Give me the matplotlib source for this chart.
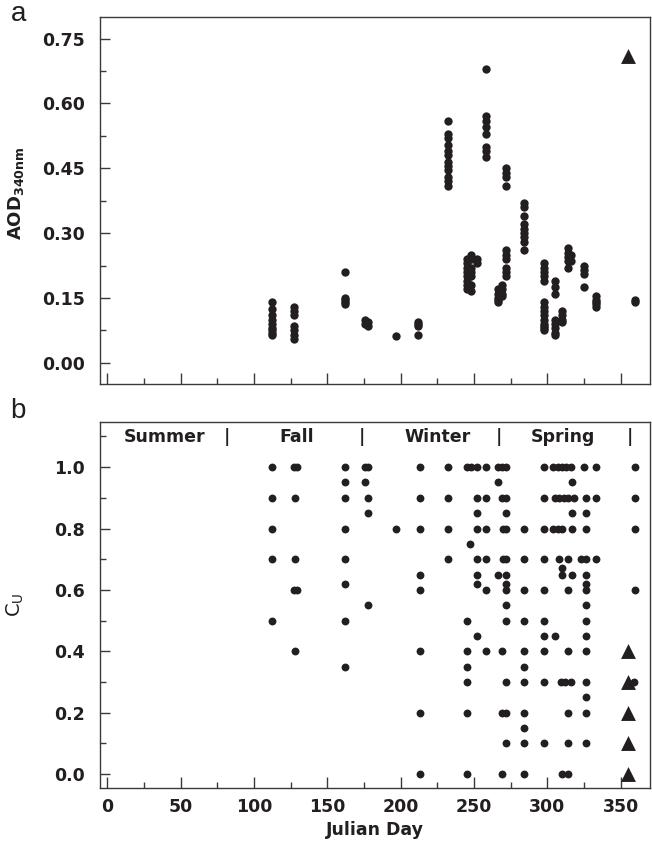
import numpy as np
import matplotlib.pyplot as plt
from matplotlib.ticker import MultipleLocator, FormatStrFormatter

plt.rcParams['font.family'] = ['DejaVu Sans']

ink = '#231f20'
frame = '#3a3a3a'

# panel a: AOD 340 nm, grouped by day
aod_days = [112, 127, 162, 176, 178, 197, 212, 232, 245, 248, 252, 258,
            266, 269, 272, 284, 298, 305, 310, 314, 316, 325, 333, 360]
aod_vals = [
    [0.14, 0.125, 0.11, 0.10, 0.09, 0.08, 0.075, 0.07, 0.065],
    [0.13, 0.12, 0.11, 0.085, 0.075, 0.065, 0.055],
    [0.21, 0.15, 0.145, 0.14, 0.135],
    [0.10, 0.09],
    [0.095, 0.085],
    [0.062],
    [0.095, 0.09, 0.085, 0.065],
    [0.56, 0.53, 0.52, 0.505, 0.49, 0.48, 0.465, 0.455, 0.445, 0.43, 0.42, 0.41],
    [0.24, 0.23, 0.22, 0.21, 0.20, 0.19, 0.18, 0.17],
    [0.25, 0.24, 0.22, 0.21, 0.20, 0.18, 0.165],
    [0.24, 0.23],
    [0.68, 0.57, 0.56, 0.545, 0.53, 0.50, 0.49, 0.475],
    [0.17, 0.16, 0.15, 0.145, 0.14],
    [0.18, 0.17, 0.16, 0.155],
    [0.45, 0.44, 0.43, 0.41, 0.26, 0.25, 0.24, 0.22, 0.21, 0.20],
    [0.37, 0.36, 0.34, 0.32, 0.31, 0.30, 0.29, 0.28, 0.26],
    [0.23, 0.22, 0.21, 0.20, 0.19, 0.14, 0.13, 0.12, 0.11, 0.10, 0.09, 0.085, 0.08, 0.075],
    [0.19, 0.175, 0.16, 0.10, 0.09, 0.08, 0.07, 0.065],
    [0.12, 0.11, 0.10, 0.095],
    [0.265, 0.255, 0.245, 0.235, 0.22],
    [0.25, 0.235],
    [0.225, 0.215, 0.205, 0.175],
    [0.155, 0.145, 0.14, 0.135, 0.13],
    [0.145, 0.14],
]
aod_tri_day = [355]
aod_tri_val = [0.71]

# panel b: cloud fraction, grouped by level
cu_levels = [1.0, 0.95, 0.9, 0.85, 0.8, 0.75, 0.7, 0.67, 0.65, 0.62, 0.6, 0.55,
             0.5, 0.45, 0.4, 0.35, 0.3, 0.25, 0.2, 0.15, 0.1, 0.0]
cu_days = [
    [112, 127, 129, 162, 176, 178, 213, 232, 245, 248, 252, 258, 266, 269, 272,
     298, 304, 307, 310, 313, 316, 325, 333, 360],
    [162, 176, 266, 317],
    [112, 128, 162, 178, 213, 232, 252, 258, 269, 272, 298, 305, 308, 311, 314,
     318, 326, 333, 360],
    [178, 252, 272, 317, 326],
    [112, 162, 197, 213, 232, 252, 258, 270, 272, 284, 298, 304, 307, 310, 317,
     326, 360],
    [247],
    [112, 128, 162, 232, 252, 258, 270, 272, 284, 298, 308, 314, 323, 326, 333],
    [310],
    [213, 252, 266, 272, 310, 317, 326],
    [162, 252, 272, 326],
    [127, 129, 213, 258, 272, 284, 298, 314, 326, 360],
    [178, 272, 326],
    [112, 162, 245, 272, 284, 298, 326],
    [252, 298, 305, 326],
    [128, 213, 245, 258, 269, 284, 298, 314, 326],
    [162, 245, 284],
    [245, 272, 284, 298, 309, 312, 316, 326, 359],
    [326],
    [213, 245, 269, 272, 284, 314, 326],
    [284],
    [272, 284, 298, 314, 326],
    [213, 245, 269, 284, 310, 314],
]
cu_tri_day = [355, 355, 355, 355, 355]
cu_tri_val = [0.4, 0.3, 0.2, 0.1, 0.0]

seasons = ['Summer', '|', 'Fall', '|', 'Winter', '|', 'Spring', '|']
season_x = [39, 81.5, 129, 173.5, 225, 267, 310.5, 356.5]

fs = 12.5

fig = plt.figure(figsize=(6.52, 8.49), dpi=100)
ax_a = fig.add_axes([0.1534, 0.5477, 0.8436, 0.4323])
ax_b = fig.add_axes([0.1534, 0.0719, 0.8436, 0.4314])

xa = np.concatenate([[d] * len(v) for d, v in zip(aod_days, aod_vals)])
ya = np.concatenate(aod_vals)
ax_a.scatter(xa, ya, s=36, color=ink, lw=0, zorder=3)
ax_a.scatter(aod_tri_day, aod_tri_val, s=115, marker='^', color=ink, lw=0, zorder=3)

xb = np.concatenate([d for d in cu_days])
yb = np.concatenate([[lv] * len(d) for lv, d in zip(cu_levels, cu_days)])
ax_b.scatter(xb, yb, s=32, color=ink, lw=0, zorder=3)
ax_b.scatter(cu_tri_day, cu_tri_val, s=115, marker='^', color=ink, lw=0, zorder=3)

for s, x in zip(seasons, season_x):
    ax_b.text(x, 1.098, s, ha='center', va='center', fontsize=fs,
              fontweight='bold', color=ink)

for ax in (ax_a, ax_b):
    ax.set_xlim(-5, 370)
    ax.xaxis.set_major_locator(MultipleLocator(50))
    ax.xaxis.set_minor_locator(MultipleLocator(25))
    for sp in ax.spines.values():
        sp.set_color(frame)
        sp.set_linewidth(1.0)
    ax.tick_params(which='both', direction='in', top=False, right=False,
                   color=frame, width=1.0)
    ax.tick_params(which='major', length=8)
    ax.tick_params(which='minor', length=4.5)
    ax.tick_params(axis='y', which='major', length=7.5, pad=11, labelsize=fs)
    ax.tick_params(axis='y', which='minor', length=4)

ax_a.set_ylim(-0.049, 0.80)
ax_a.yaxis.set_major_locator(MultipleLocator(0.15))
ax_a.yaxis.set_minor_locator(MultipleLocator(0.075))
ax_a.yaxis.set_major_formatter(FormatStrFormatter('%.2f'))
ax_a.tick_params(axis='x', labelbottom=False)
ax_a.set_ylabel(r'AOD$_{\mathbf{340nm}}$', fontsize=13, fontweight='bold', color=ink)
ax_a.yaxis.set_label_coords(-0.135, 0.52)

ax_b.set_ylim(-0.045, 1.148)
ax_b.yaxis.set_major_locator(MultipleLocator(0.2))
ax_b.yaxis.set_minor_locator(MultipleLocator(0.1))
ax_b.yaxis.set_major_formatter(FormatStrFormatter('%.1f'))
ax_b.tick_params(axis='x', pad=7, labelsize=fs)
ax_b.set_ylabel(r'C$_\mathrm{U}$', fontsize=14, color=ink)
ax_b.yaxis.set_label_coords(-0.135, 0.5)
ax_b.set_xlabel('Julian Day', fontsize=fs, fontweight='bold', color=ink, labelpad=4)

for ax in (ax_a, ax_b):
    for lab in ax.get_yticklabels() + ax.get_xticklabels():
        lab.set_fontweight('bold')
        lab.set_color(ink)

fig.text(0.028, 0.975, 'a', fontsize=20, color=ink, ha='center', va='baseline',
         family='Liberation Sans')
fig.text(0.028, 0.508, 'b', fontsize=20, color=ink, ha='center', va='baseline',
         family='Liberation Sans')

fig.savefig('out.png', dpi=100)
